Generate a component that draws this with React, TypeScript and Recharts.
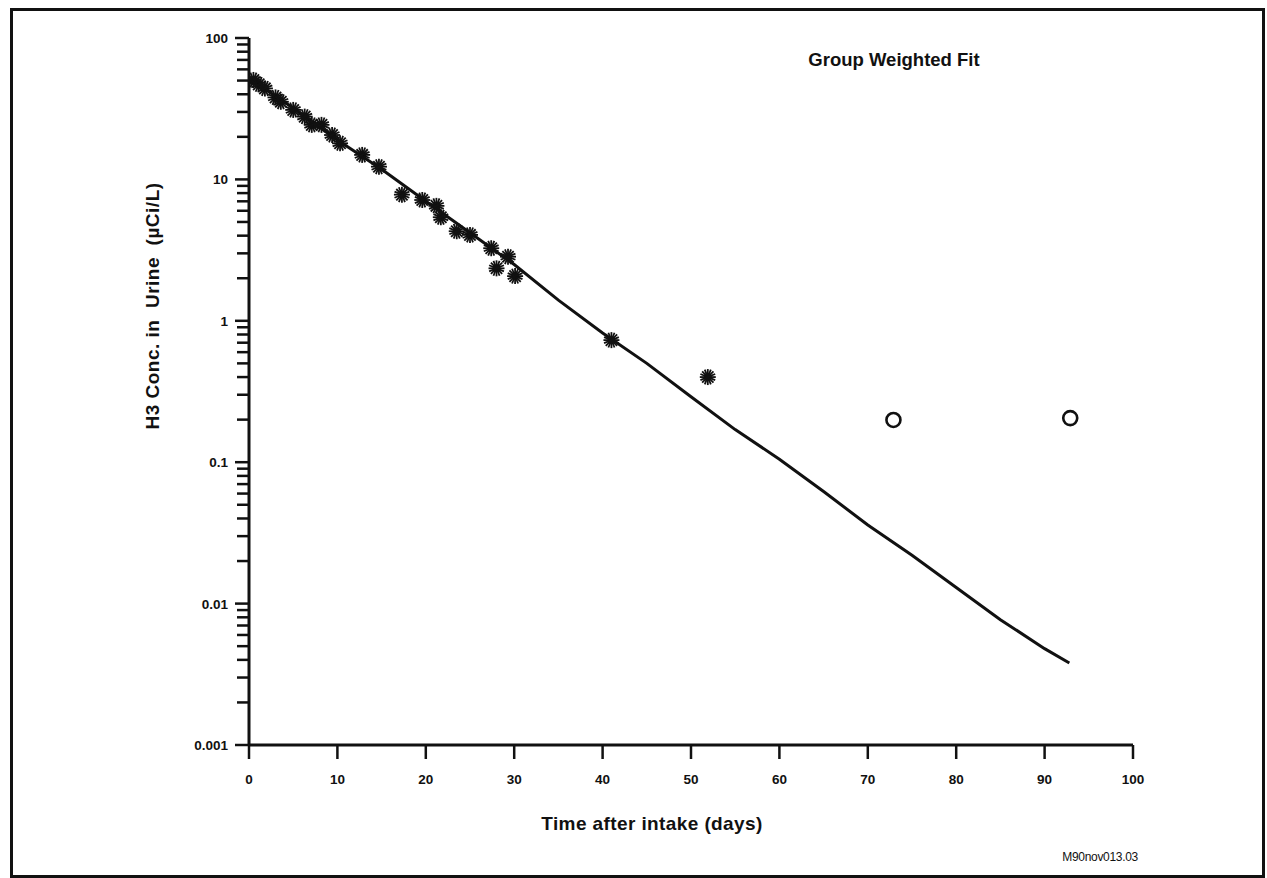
import React from 'react';
import { ComposedChart, XAxis, YAxis, Scatter, Line } from 'recharts';

// Measured H3 concentrations in urine (µCi/L) against days after intake
const starDays = [0.5, 1.1, 1.8, 3.0, 3.6, 5.0, 6.3, 7.1, 8.2, 9.4, 10.3, 12.8, 14.7, 17.3, 19.6, 21.2, 21.7, 23.5, 25.0, 27.4, 28.0, 29.3, 30.1, 41.0, 51.9];
const starConc = [50.5, 47, 44, 38, 35.4, 31, 27.8, 24.3, 24.3, 20.6, 18.0, 14.9, 12.3, 7.8, 7.15, 6.5, 5.4, 4.3, 4.05, 3.26, 2.35, 2.84, 2.07, 0.73, 0.40];

// Late samples drawn as open circles
const circleDays = [72.9, 92.9];
const circleConc = [0.199, 0.205];

// Group weighted fit curve
const fitDays = [0, 5, 10, 15, 20, 25, 30, 35, 40, 45, 50, 55, 60, 65, 70, 75, 80, 85, 90, 92.8];
const fitConc = [52, 32, 19, 11.8, 7.0, 4.2, 2.5, 1.4, 0.82, 0.5, 0.29, 0.17, 0.105, 0.062, 0.036, 0.022, 0.013, 0.0077, 0.0048, 0.0038];

const xTicks = [0, 10, 20, 30, 40, 50, 60, 70, 80, 90, 100];
const decades = [0.001, 0.01, 0.1, 1, 10];
const decadeLabels = ['0.001', '0.01', '0.1', '1', '10', '100'];
const mantissas = [1, 2, 3, 4, 5, 6, 7, 8, 9];

const yTicks: number[] = [];
decades.forEach((d) => mantissas.forEach((m) => yTicks.push(parseFloat((m * d).toPrecision(3)))));
yTicks.push(100);

const toRows = (days: number[], conc: number[]) => days.map((day, i) => ({ day, conc: conc[i] }));
const stars = toRows(starDays, starConc);
const circles = toRows(circleDays, circleConc);
const fit = toRows(fitDays, fitConc);

const FONT = '"Liberation Sans", Arial, Helvetica, sans-serif';
const INK = '#111';

const isDecade = (v: number) => {
  const l = Math.log10(v);
  return Math.abs(l - Math.round(l)) < 1e-6;
};

const YTick = (props: any) => {
  const { x, y, payload } = props;
  const v = payload.value;
  const major = isDecade(v);
  const label = major ? decadeLabels[Math.round(Math.log10(v)) + 3] : '';
  return (
    <g>
      <line x1={x - (major ? 14 : 12)} x2={x} y1={y} y2={y} stroke={INK} strokeWidth={2.5} />
      {major && (
        <text x={x - 21} y={y} dy={5} textAnchor="end" fontFamily={FONT} fontWeight="bold" fontSize={13.5} fill={INK}>
          {label}
        </text>
      )}
    </g>
  );
};

const XTick = (props: any) => {
  const { x, y, payload } = props;
  return (
    <g>
      <line x1={x} x2={x} y1={y} y2={y + 14} stroke={INK} strokeWidth={2.5} />
      <text x={x} y={y + 39} textAnchor="middle" fontFamily={FONT} fontWeight="bold" fontSize={13.5} fill={INK}>
        {payload.value}
      </text>
    </g>
  );
};

const Asterisk = (props: any) => {
  const { cx, cy } = props;
  if (cx == null || cy == null) return null;
  const r = 8;
  const spokes = [0, 22.5, 45, 67.5, 90, 112.5, 135, 157.5];
  return (
    <g>
      <circle cx={cx} cy={cy} r={4} fill={INK} />
      {spokes.map((a) => {
        const t = (a * Math.PI) / 180;
        return (
          <line
            key={a}
            x1={cx - r * Math.cos(t)}
            y1={cy - r * Math.sin(t)}
            x2={cx + r * Math.cos(t)}
            y2={cy + r * Math.sin(t)}
            stroke={INK}
            strokeWidth={1.8}
          />
        );
      })}
    </g>
  );
};

const OpenCircle = (props: any) => {
  const { cx, cy } = props;
  if (cx == null || cy == null) return null;
  return <circle cx={cx} cy={cy} r={7} fill="#fff" stroke={INK} strokeWidth={2.6} />;
};

const XTitle = () => (
  <text x={652} y={830} textAnchor="middle" fontFamily={FONT} fontWeight="bold" fontSize={19} letterSpacing={0.4} fill={INK}>
    Time after intake (days)
  </text>
);

const YTitle = () => (
  <text
    x={152}
    y={306}
    transform="rotate(-90 152 306)"
    textAnchor="middle"
    dominantBaseline="central"
    fontFamily={FONT}
    fontWeight="bold"
    fontSize={19}
    letterSpacing={0.5}
    style={{ whiteSpace: 'pre' }}
    fill={INK}
  >
    {'H3 Conc. in  Urine  (µCi/L)'}
  </text>
);

export default function App() {
  return (
    <div style={{ position: 'absolute', left: 0, top: 0, width: 1267, height: 878, background: '#fff', overflow: 'hidden' }}>
      <div
        style={{
          position: 'absolute',
          left: 10,
          top: 8,
          width: 1255,
          height: 870,
          border: `3px solid ${INK}`,
          boxSizing: 'border-box',
        }}
      />
      <div style={{ position: 'absolute', left: 0, top: 0 }}>
        <ComposedChart width={1267} height={878} margin={{ top: 38, right: 134, bottom: 73, left: 149 }}>
          <XAxis
            type="number"
            dataKey="day"
            domain={[0, 100]}
            ticks={xTicks}
            interval={0}
            height={60}
            tickSize={0}
            tickMargin={0}
            tickLine={false}
            tick={<XTick />}
            axisLine={{ stroke: INK, strokeWidth: 3 }}
            allowDataOverflow
            label={XTitle}
          />
          <YAxis
            type="number"
            dataKey="conc"
            scale="log"
            domain={[0.001, 100]}
            ticks={yTicks}
            interval={0}
            width={100}
            tickSize={0}
            tickMargin={0}
            tickLine={false}
            tick={<YTick />}
            axisLine={{ stroke: INK, strokeWidth: 3 }}
            allowDataOverflow
            label={YTitle}
          />
          <Line
            data={fit}
            dataKey="conc"
            type="linear"
            stroke={INK}
            strokeWidth={3}
            dot={false}
            activeDot={false}
            isAnimationActive={false}
          />
          <Scatter data={stars} dataKey="conc" shape={<Asterisk />} isAnimationActive={false} />
          <Scatter data={circles} dataKey="conc" shape={<OpenCircle />} isAnimationActive={false} />
        </ComposedChart>
      </div>
      <svg width={1267} height={878} style={{ position: 'absolute', left: 0, top: 0, pointerEvents: 'none' }}>
        <text x={894} y={66} textAnchor="middle" fontFamily={FONT} fontWeight="bold" fontSize={18.5} fill={INK}>
          Group Weighted Fit
        </text>
        <text x={1138} y={861} textAnchor="end" fontFamily={FONT} fontSize={12} letterSpacing={-0.3} fill={INK}>
          M90nov013.03
        </text>
      </svg>
    </div>
  );
}
